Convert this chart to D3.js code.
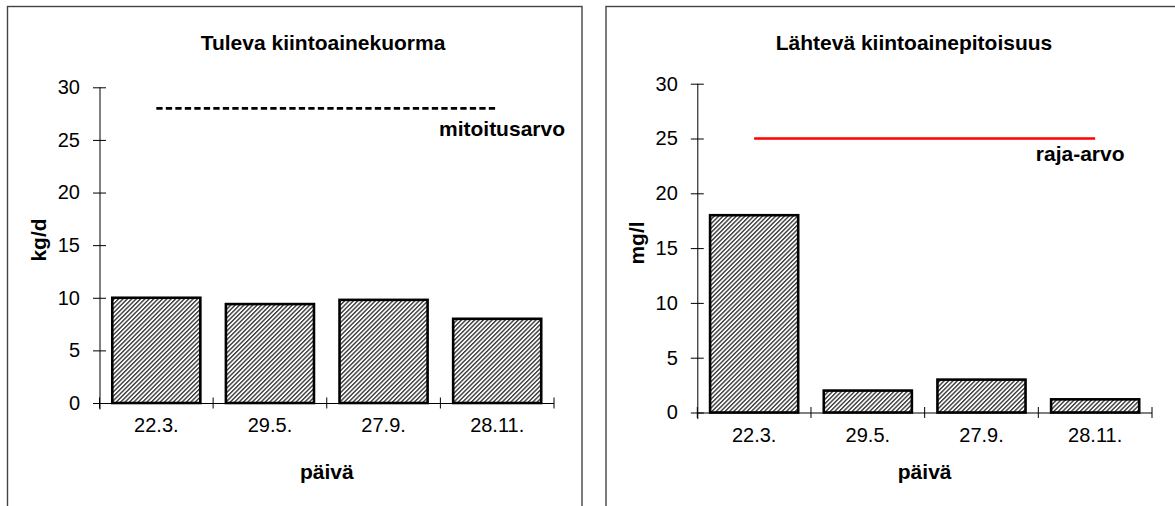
<!DOCTYPE html>
<html>
<head>
<meta charset="utf-8">
<script src="https://cdn.jsdelivr.net/npm/d3@7"></script>
<style>
  html, body { margin: 0; padding: 0; background: #fff; }
  svg { display: block; font-family: "Liberation Sans", Arial, sans-serif; }
</style>
</head>
<body>
<svg id="chart" width="1175" height="506"></svg>
<script>
// Sampling dates
const categories = ["22.3.", "29.5.", "27.9.", "28.11."];
// Incoming suspended-solids load, kg/d
const inflowLoad = [10, 9.4, 9.8, 8];
// Design value for the incoming load, kg/d
const designValue = [28, 28, 28, 28];
// Outgoing suspended-solids concentration, mg/l
const outflowConc = [18, 2, 3, 1.2];
// Permit limit for the outgoing concentration, mg/l
const limitValue = [25, 25, 25, 25];
// Value-axis ticks
const yTicks = [0, 5, 10, 15, 20, 25, 30];

const svg = d3.select("#chart");

// Diagonal hatch used for the bars
const defs = svg.append("defs");
const pat = defs.append("pattern")
  .attr("id", "hatch")
  .attr("patternUnits", "userSpaceOnUse")
  .attr("width", 3.1).attr("height", 3.1)
  .attr("patternTransform", "rotate(45)");
pat.append("rect").attr("width", 3.1).attr("height", 3.1).attr("fill", "#fff");
pat.append("rect").attr("width", 1.4).attr("height", 3.1).attr("fill", "#3a3a3a");

function panel(cfg) {
  const g = svg.append("g");

  // chart-area frame (runs past the bottom edge)
  g.append("rect")
    .attr("x", cfg.frame[0]).attr("y", cfg.frame[1])
    .attr("width", cfg.frame[2]).attr("height", 600)
    .attr("fill", "none").attr("stroke", "#444").attr("stroke-width", 1.4);

  const x = d3.scaleBand().domain(categories).range([cfg.x0, cfg.x1]).padding(0);
  const y = d3.scaleLinear().domain([0, 30]).range([cfg.y0, cfg.y1]);
  const bw = x.bandwidth();
  const barW = bw * 0.775;

  // bars
  g.selectAll("rect.bar").data(cfg.values).join("rect")
    .attr("class", "bar")
    .attr("x", (d, i) => x(categories[i]) + (bw - barW) / 2)
    .attr("y", d => y(d))
    .attr("width", barW)
    .attr("height", d => y(0) - y(d))
    .attr("fill", "url(#hatch)")
    .attr("stroke", "#000").attr("stroke-width", 2.6);

  // y axis with crossing ticks
  const ya = g.append("g")
    .attr("transform", `translate(${cfg.x0},0)`)
    .call(d3.axisLeft(y).tickValues(yTicks).tickSizeInner(6.5).tickSizeOuter(0).tickPadding(13));
  ya.select(".domain").attr("d", `M0.5,${y(30)}V${y(0) + 6.5}`).attr("stroke", "#000");
  ya.selectAll(".tick line").attr("x1", 6.5).attr("x2", -6.5).attr("stroke", "#000");
  ya.selectAll(".tick text").attr("font-size", 20).attr("fill", "#000")
    .attr("font-family", "Liberation Sans, Arial, sans-serif");

  // x axis: labels at band centres, crossing ticks at band edges
  const xa = g.append("g")
    .attr("transform", `translate(0,${y(0)})`)
    .call(d3.axisBottom(x).tickSize(0).tickPadding(15));
  xa.select(".domain").attr("d", `M${cfg.x0},0.5H${cfg.x1}`).attr("stroke", "#000");
  xa.selectAll(".tick text").attr("font-size", 20).attr("fill", "#000")
    .attr("font-family", "Liberation Sans, Arial, sans-serif");
  const edges = categories.map(c => x(c)).concat([x.range()[1]]);
  xa.selectAll("line.edge").data(edges).join("line")
    .attr("class", "edge")
    .attr("x1", d => d).attr("x2", d => d)
    .attr("y1", -5.5).attr("y2", 5.5)
    .attr("stroke", "#000").attr("stroke-width", 1);

  // reference line through the category centres
  const line = d3.line()
    .x((d, i) => x(categories[i]) + bw / 2)
    .y(d => y(d));
  g.append("path").datum(cfg.refValues)
    .attr("d", line)
    .attr("fill", "none")
    .attr("stroke", cfg.refColor)
    .attr("stroke-width", 2.6)
    .attr("stroke-dasharray", cfg.refDash);

  g.append("text")
    .attr("x", cfg.refLabelX).attr("y", y(cfg.refValues[3]) + cfg.refLabelDy)
    .attr("text-anchor", "end")
    .attr("font-size", 21).attr("font-weight", "bold")
    .text(cfg.refLabel);

  // titles
  g.append("text")
    .attr("x", cfg.titleX).attr("y", 50)
    .attr("text-anchor", "middle")
    .attr("font-size", 21).attr("font-weight", "bold")
    .text(cfg.title);

  g.append("text")
    .attr("transform", `translate(${cfg.frame[0] + 38},${cfg.yTitleY}) rotate(-90)`)
    .attr("text-anchor", "middle")
    .attr("font-size", 21).attr("font-weight", "bold")
    .text(cfg.yTitle);

  g.append("text")
    .attr("x", (cfg.x0 + cfg.x1) / 2).attr("y", 479)
    .attr("text-anchor", "middle")
    .attr("font-size", 21).attr("font-weight", "bold")
    .text("päivä");
}

panel({
  frame: [7.5, 6.5, 574.5],
  x0: 99.5, x1: 554, y0: 403, y1: 87.3,
  values: inflowLoad,
  refValues: designValue,
  refColor: "#000",
  refDash: "6.3,3.2",
  refLabel: "mitoitusarvo",
  refLabelX: 565, refLabelDy: 27.5,
  title: "Tuleva kiintoainekuorma", titleX: 323,
  yTitle: "kg/d", yTitleY: 240
});

panel({
  frame: [606, 6.5, 600],
  x0: 697.3, x1: 1152, y0: 412.5, y1: 83.7,
  values: outflowConc,
  refValues: limitValue,
  refColor: "#ff0000",
  refDash: null,
  refLabel: "raja-arvo",
  refLabelX: 1124.5, refLabelDy: 22,
  title: "Lähtevä kiintoainepitoisuus", titleX: 914,
  yTitle: "mg/l", yTitleY: 243
});
</script>
</body>
</html>
